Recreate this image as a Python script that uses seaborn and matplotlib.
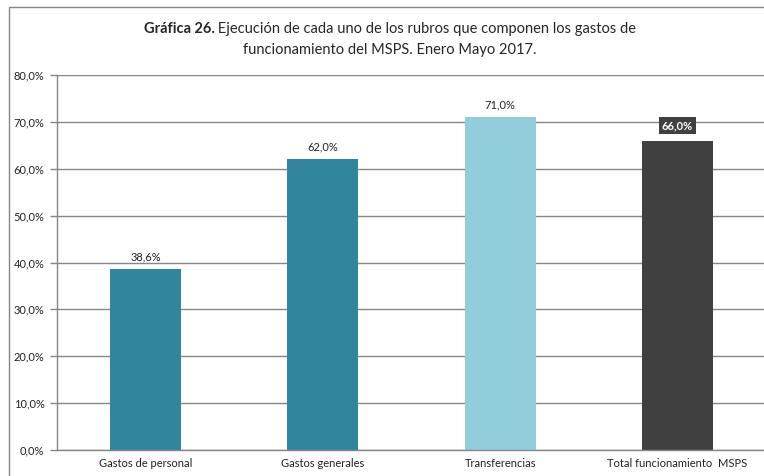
import matplotlib
matplotlib.use("Agg")
import matplotlib.pyplot as plt
import seaborn as sns
import pandas as pd
from matplotlib.patches import Rectangle

categories = ["Gastos de personal", "Gastos generales", "Transferencias", "Total funcionamiento  MSPS"]
values = [38.6, 62.0, 71.0, 66.0]
colors = ["#31859C", "#31859C", "#92CDDC", "#404040"]
yticks = [0, 10, 20, 30, 40, 50, 60, 70, 80]

sns.set_style("white")
plt.rcParams['font.family'] = ['Lato', 'DejaVu Sans']

df = pd.DataFrame({"cat": categories, "val": values})

fig = plt.figure(figsize=(7.64, 4.76), dpi=100)
ax = fig.add_axes([57/764, 26/476, (766-57)/764, (450-75)/476])

sns.barplot(data=df, x="cat", y="val", hue="cat", palette=colors, width=0.4,
            legend=False, ax=ax, saturation=1, edgecolor="none")

ax.set_ylim(0, 80)
ax.set_xlim(-0.5, 3.5)
ax.set_yticks(yticks)
ax.set_yticklabels([f"{v:.1f}".replace(".", ",") + "%" for v in yticks], fontsize=8, color="#222222")
ax.yaxis.grid(True, color="#868686", linewidth=1.0)
ax.set_axisbelow(True)
ax.set_xlabel("")
ax.set_ylabel("")
ax.set_xticks(range(len(categories)))
ax.set_xticklabels(categories, fontsize=8, color="#222222")
ax.set_xticks([0.5, 1.5, 2.5, 3.5], minor=True)
ax.tick_params(axis="x", which="major", length=0, pad=6)
ax.tick_params(axis="x", which="minor", length=5, color="#868686", width=1, direction="out")
ax.tick_params(axis="y", length=5, color="#868686", width=1, direction="out", left=True, pad=4)
for s in ["top", "right"]:
    ax.spines[s].set_visible(False)
for s in ["left", "bottom"]:
    ax.spines[s].set_color("#868686")
    ax.spines[s].set_linewidth(1.0)

for i, v in enumerate(values):
    lbl = f"{v:.1f}".replace(".", ",") + "%"
    if i == 3:
        ax.annotate(lbl, (i, v), xytext=(0, 7), textcoords="offset points", ha="center",
                    va="bottom", fontsize=8, color="white", fontweight="bold",
                    bbox=dict(boxstyle="square,pad=0.25", fc="#404040", ec="none"))
    else:
        ax.annotate(lbl, (i, v), xytext=(0, 5), textcoords="offset points", ha="center",
                    va="bottom", fontsize=8, color="#222222")

# Title with bold prefix
cx = 390/764
y1 = 1 - 29/476
y2 = 1 - 50/476
fig.canvas.draw()
r = fig.canvas.get_renderer()
tb = fig.text(0, y1, "Gráfica 26.", fontsize=10.5, fontweight="bold", va="center", ha="left")
tn = fig.text(0, y1, " Ejecución de cada uno de los rubros que componen los gastos de",
              fontsize=10.5, va="center", ha="left")
wb = tb.get_window_extent(r).width / fig.bbox.width
wn = tn.get_window_extent(r).width / fig.bbox.width
start = cx - (wb + wn) / 2
tb.set_x(start)
tn.set_x(start + wb)
fig.text(cx, y2, "funcionamiento del MSPS. Enero Mayo 2017.", fontsize=10.5, va="center", ha="center")

fig.patches.append(Rectangle((9/764, -0.05), 1.1, 1 - 7/476 + 0.05, transform=fig.transFigure,
                             fill=False, edgecolor="#868686", linewidth=1.0))

fig.savefig("out.png", dpi=100)
